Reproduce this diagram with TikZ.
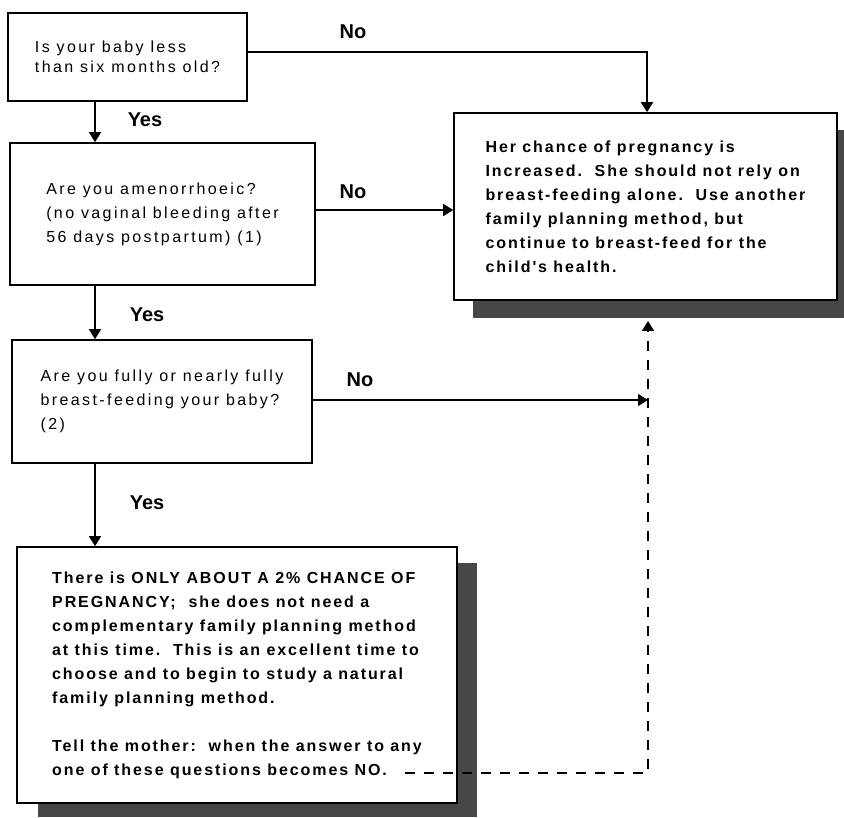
\documentclass[tikz,border=0pt]{standalone}
\usepackage{fontspec}
\setmainfont{Liberation Sans}
\newfontfamily\qfont[LetterSpace=15]{Liberation Sans}
\newfontfamily\rfont[LetterSpace=12]{Liberation Sans}
\usetikzlibrary{arrows.meta,calc}
\begin{document}
\begin{tikzpicture}[x=1pt,y=-1pt,
  box/.style={draw,line width=1.6pt,rectangle,align=left,inner sep=0pt,fill=white},
  qtext/.style={font=\qfont\fontsize{16}{24}\selectfont},
  rtext/.style={font=\rfont\bfseries\fontsize{16}{24}\selectfont},
  lab/.style={font=\bfseries\fontsize{20}{22}\selectfont,inner sep=0pt},
  arr/.style={line width=1.4pt,-{Triangle[width=12pt,length=10pt]}},
  shadow/.style={fill=black!72,draw=none},
  dashline/.style={line width=1.6pt,dash pattern=on 10pt off 9pt,-{Triangle[width=12pt,length=10pt]}}
]
\useasboundingbox (0,0) rectangle (844,818);
\fill[white] (0,0) rectangle (844,818);
% shadows
\fill[shadow] (473,130) rectangle (844,318);
\fill[shadow] (38,563) rectangle (477,817);
% boxes
\node[box,font=\qfont\fontsize{16}{20}\selectfont,minimum width=239pt,minimum height=88pt] (b1) at (127.5,57)
  {Is your baby less\\than six months old?};
\node[box,qtext,minimum width=305pt,minimum height=142pt] (b2) at (162.5,214)
  {Are you amenorrhoeic?\\(no vaginal bleeding after\\56 days postpartum) (1)};
\node[box,qtext,minimum width=300pt,minimum height=123pt] (b3) at (162,401.5)
  {Are you fully or nearly fully\\breast-feeding your baby?\\(2)};
\node[box,rtext,minimum width=383pt,minimum height=187pt] (res) at (645.5,206.5)
  {Her chance of pregnancy is\\Increased.\ \ She should not rely on\\breast-feeding alone.\ \ Use another\\family planning method, but\\continue to breast-feed for the\\child's health.};
\node[box,rtext,minimum width=440pt,minimum height=256pt] (b4) at (237,675)
  {There is ONLY ABOUT A 2\% CHANCE OF\\PREGNANCY;\ \ she does not need a\\complementary family planning method\\at this time.\ \ This is an excellent time to\\choose and to begin to study a natural\\family planning method.\\[24pt]Tell the mother:\ \ when the answer to any\\one of these questions becomes NO.};
% labels
\node[lab] (y1) at (145,120) {Yes};
\node[lab] (y2) at (147,315) {Yes};
\node[lab] (y3) at (147,503) {Yes};
\node[lab] (n1) at (353,32) {No};
\node[lab] (n2) at (353,192) {No};
\node[lab] (n3) at (360,380) {No};
% connectors
\coordinate (vx) at (95,0);
\draw[arr] (b1.south -| vx) -- (b2.north -| vx);
\draw[arr] (b2.south -| vx) -- (b3.north -| vx);
\draw[arr] (b3.south -| vx) -- (b4.north -| vx);
\coordinate (c1) at (647,52);
\draw[arr,line width=2pt] (b1.east |- c1) -- (c1) -- (res.north -| c1);
\coordinate (c2) at (0,210);
\draw[arr] (b2.east |- c2) -- (res.west |- c2);
\coordinate (c3) at (648,400);
\draw[arr] (b3.east |- c3) -- (c3);
\coordinate (d0) at (405,773);
\coordinate (d1) at (648,773);
\coordinate (d2) at (648,321);
\draw[dashline] (d0) -- (d1) -- (d2);
\end{tikzpicture}
\end{document}
